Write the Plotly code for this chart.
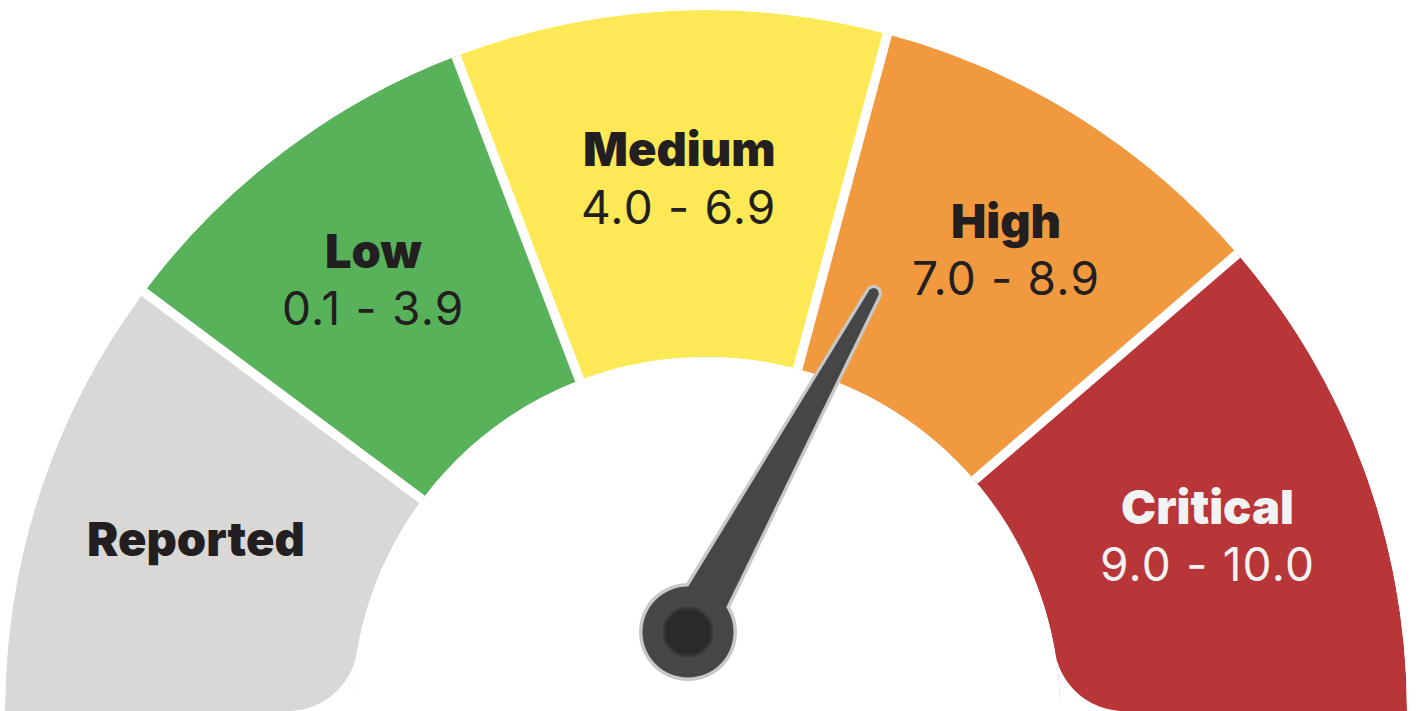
import math
import plotly.graph_objects as go

# ---------------- data ----------------
names = ["Reported", "Low", "Medium", "High", "Critical"]
ranges = ["", "0.1 - 3.9", "4.0 - 6.9", "7.0 - 8.9", "9.0 - 10.0"]
score_bounds = [0.0, 0.1, 4.0, 7.0, 9.0, 10.0]
angle_bounds = [0.0, 36.7, 69.1, 105.0, 139.3, 180.0]   # degrees, clockwise from the left end
colors = ["#d9d8d6", "#58b25a", "#fce955", "#f0993e", "#b83637"]
text_colors = ["#231f20", "#231f20", "#231f20", "#231f20", "#f1f2f2"]
needle_value = 7.8

# ---------------- geometry / style ----------------
W, H = 1416, 711
CX, CY = 706, 711          # gauge centre (px)
R_OUT, R_IN = 701, 354     # ring radii (px)
CORNER_R = 70
PIVOT = (688, 632)
FONT = "Inter"
# label placement (angle from left end, radius in px) for each segment
label_theta = [18.5, 52.3, 87.1, 123.1, 160.9]
label_radius = [538, 543, 532, 549, 531]


def P(x, y):
    """pixel -> paper"""
    return x / W, 1 - y / H


def path_from(points):
    s = ""
    for i, (x, y) in enumerate(points):
        px, py = P(x, y)
        s += ("M" if i == 0 else "L") + f"{px:.6f},{py:.6f} "
    return s + "Z"


mids = [(a + b) / 2 for a, b in zip(angle_bounds[:-1], angle_bounds[1:])]
spans = [b - a for a, b in zip(angle_bounds[:-1], angle_bounds[1:])]

fig = go.Figure()
fig.add_trace(go.Barpolar(
    r=[1] * len(names), theta=mids, width=spans, base=0,
    marker=dict(color=colors, line=dict(width=0)),
    hoverinfo="skip", showlegend=False,
))
# white gaps between segments
for b in angle_bounds[1:-1]:
    fig.add_trace(go.Scatterpolar(
        r=[0, 1], theta=[b, b], mode="lines",
        line=dict(color="white", width=9.5),
        hoverinfo="skip", showlegend=False,
    ))

shapes = []
# rounded inner corners at both bottom ends
d = math.sqrt((R_IN + CORNER_R) ** 2 - CORNER_R ** 2)
n = 30
for side in (-1, 1):
    ccx, ccy = CX + side * d, CY - CORNER_R
    vx, vy = ccx - CX, ccy - CY
    nrm = math.hypot(vx, vy)
    tx, ty = CX + vx / nrm * R_IN, CY + vy / nrm * R_IN
    a0 = math.atan2(ty - CY, tx - CX)
    a1 = -math.pi if side == -1 else 0.0
    pts = []
    for k in range(n + 1):
        a = a0 + (a1 - a0) * k / n
        pts.append((CX + R_IN * math.cos(a), CY + R_IN * math.sin(a)))
    pts.append((CX + side * (R_IN + 1), CY + 2))
    pts.append((ccx, CY + 2))
    b0 = math.pi / 2
    b1 = math.atan2(ty - ccy, tx - ccx)
    for k in range(n + 1):
        a = b0 + (b1 - b0) * k / n
        pts.append((ccx + CORNER_R * math.cos(a), ccy + CORNER_R * math.sin(a)))
    shapes.append(dict(type="path", xref="paper", yref="paper", path=path_from(pts),
                       fillcolor="white", line=dict(width=0), layer="above"))


# ---------------- needle ----------------
def interp(v, xs, ys):
    for i in range(len(xs) - 1):
        if xs[i] <= v <= xs[i + 1]:
            return ys[i] + (v - xs[i]) / (xs[i + 1] - xs[i]) * (ys[i + 1] - ys[i])
    return ys[-1]


ang = math.radians(interp(needle_value, score_bounds, angle_bounds))
ux, uy = -math.cos(ang), -math.sin(ang)
nx, ny = -uy, ux
px0, py0 = PIVOT
L_TIP = 386


def needle_pts(w0, wt, s0=-1.0, s1=1.0):
    """polygon of the needle body between signed half-width fractions s0..s1"""
    pts = [(px0 + nx * w0 * s1, py0 + ny * w0 * s1),
           (px0 + ux * L_TIP + nx * wt * s1, py0 + uy * L_TIP + ny * wt * s1)]
    base = math.atan2(ny, nx)
    for k in range(1, 24):
        a = base - math.pi * k / 24
        pts.append((px0 + ux * L_TIP + wt * math.cos(a), py0 + uy * L_TIP + wt * math.sin(a)))
    pts.append((px0 + ux * L_TIP - nx * wt, py0 + uy * L_TIP - ny * wt))
    pts.append((px0 - nx * w0, py0 - ny * w0))
    return pts


def circle(r, fill, line_color=None, lw=0):
    x0, y0 = P(px0 - r, py0 + r)
    x1, y1 = P(px0 + r, py0 - r)
    return dict(type="circle", xref="paper", yref="paper", x0=x0, y0=y0, x1=x1, y1=y1,
                fillcolor=fill, line=dict(color=line_color or fill, width=lw), layer="above")


shapes.append(dict(type="path", xref="paper", yref="paper", path=path_from(needle_pts(27, 8.5)),
                   fillcolor="#c8c8c8", line=dict(width=0), layer="above"))
shapes.append(circle(49, "#c8c8c8"))
shapes.append(dict(type="path", xref="paper", yref="paper", path=path_from(needle_pts(23.5, 5.3)),
                   fillcolor="#464646", line=dict(width=0), layer="above"))
shapes.append(circle(45.5, "#464646"))
shapes.append(circle(24, "#2a2a2a", "#363636", 2.5))

# ---------------- labels ----------------
annotations = []
for name, rng, th, rr, tc in zip(names, ranges, label_theta, label_radius, text_colors):
    a = math.radians(th)
    lx = CX - rr * math.cos(a)
    ly = CY - rr * math.sin(a)
    x, y = P(lx, ly)
    name_font = dict(family=FONT, size=47, color=tc, weight=900)
    if rng:
        annotations.append(dict(x=x, y=y, xref="paper", yref="paper", text=name, showarrow=False,
                                xanchor="center", yanchor="middle", yshift=31,
                                font=name_font))
        annotations.append(dict(x=x, y=y, xref="paper", yref="paper",
                                text=f'<span style="letter-spacing:1.2px">{rng}</span>',
                                showarrow=False, xanchor="center", yanchor="middle", yshift=-27,
                                font=dict(family=FONT, size=46, color=tc, weight=400)))
    else:
        annotations.append(dict(x=x, y=y, xref="paper", yref="paper", text=name, showarrow=False,
                                xanchor="center", yanchor="middle", yshift=2,
                                font=name_font))

fig.update_layout(
    width=W, height=H,
    margin=dict(l=0, r=0, t=0, b=0, pad=0),
    paper_bgcolor="white", plot_bgcolor="white",
    showlegend=False,
    polar=dict(
        domain=dict(x=[(CX - R_OUT) / W, (CX + R_OUT) / W], y=[0, R_OUT / H]),
        sector=[0, 180], hole=R_IN / R_OUT, bgcolor="white",
        radialaxis=dict(range=[0, 1], visible=False),
        angularaxis=dict(visible=False, rotation=180, direction="clockwise",
                         thetaunit="degrees"),
    ),
    shapes=shapes,
    annotations=annotations,
)

fig.write_html("out.html")
